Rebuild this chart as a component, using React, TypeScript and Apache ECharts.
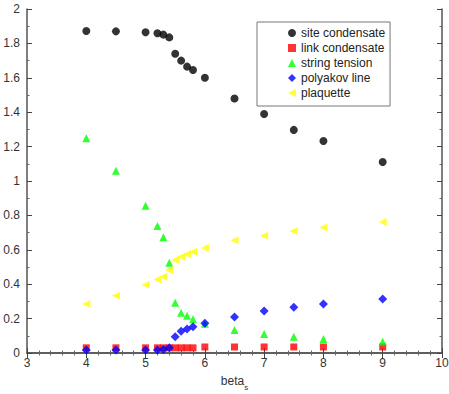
import React, { useEffect, useRef } from "react";
import * as echarts from "echarts";

const betaValues = [4, 4.5, 5, 5.2, 5.3, 5.4, 5.5, 5.6, 5.7, 5.8, 6, 6.5, 7, 7.5, 8, 9];
const siteCondensate = [1.872, 1.87, 1.865, 1.859, 1.851, 1.835, 1.74, 1.70, 1.665, 1.645, 1.60, 1.48, 1.39, 1.297, 1.233, 1.11];
const linkCondensate = [0.03, 0.03, 0.03, 0.03, 0.03, 0.03, 0.03, 0.03, 0.03, 0.03, 0.035, 0.035, 0.035, 0.035, 0.035, 0.035];
const stringTension = [1.248, 1.06, 0.856, 0.738, 0.673, 0.525, 0.292, 0.234, 0.217, 0.196, 0.17, 0.134, 0.11, 0.095, 0.081, 0.066];
const polyakovLine = [0.017, 0.017, 0.017, 0.017, 0.02, 0.03, 0.095, 0.127, 0.14, 0.153, 0.173, 0.21, 0.244, 0.266, 0.285, 0.314];
const plaquette = [0.285, 0.333, 0.397, 0.428, 0.444, 0.483, 0.541, 0.56, 0.574, 0.589, 0.61, 0.655, 0.682, 0.709, 0.729, 0.762];

const seriesNames = ["site condensate", "link condensate", "string tension", "polyakov line", "plaquette"];

const FONT = "'Liberation Sans', Arial, Helvetica, sans-serif";
const LEFT_TRIANGLE = "path://M0,5 L10,0 L10,10 Z";

function pairs(ys: number[]) {
  return betaValues.map((x, i) => [x, ys[i]]);
}

export default function App() {
  const ref = useRef<HTMLDivElement>(null);
  useEffect(() => {
    if (!ref.current) return;
    const chart = echarts.init(ref.current, null, { renderer: "svg" });
    const axisLine = { show: true, lineStyle: { color: "#555", width: 1.5 } };
    const baseX = {
      type: "value" as const,
      min: 3,
      max: 10,
      interval: 1,
      axisLine,
      splitLine: { show: false },
      axisTick: { show: true, inside: true, length: 5, lineStyle: { color: "#444" } },
      minorTick: { show: true, splitNumber: 5, length: 2.5, lineStyle: { color: "#666" } },
    };
    const baseY = {
      type: "value" as const,
      min: 0,
      max: 2,
      interval: 0.2,
      axisLine,
      splitLine: { show: false },
      axisTick: { show: true, inside: true, length: 5, lineStyle: { color: "#444" } },
      minorTick: { show: true, splitNumber: 2, length: 2.5, lineStyle: { color: "#666" } },
    };
    chart.setOption({
      animation: false,
      backgroundColor: "#fff",
      textStyle: { fontFamily: FONT },
      grid: { left: 27, right: 7, top: 9, bottom: 41, containLabel: false, outerBoundsMode: "none" },
      legend: {
        data: [
          { name: seriesNames[0] },
          { name: seriesNames[1] },
          { name: seriesNames[2] },
          { name: seriesNames[3] },
          { name: seriesNames[4], icon: LEFT_TRIANGLE },
        ],
        orient: "vertical",
        left: 257,
        top: 22,
        padding: [5, 5, 7, 31],
        itemGap: 3,
        itemWidth: 8,
        itemHeight: 8,
        borderColor: "#777",
        borderWidth: 1,
        textStyle: { fontSize: 12, color: "#222", fontFamily: FONT },
      },
      xAxis: [
        {
          ...baseX,
          position: "bottom",
          axisLabel: { show: true, fontSize: 12, color: "#333", margin: 4, fontFamily: FONT },
          name: "{a|beta}{s|s}",
          nameLocation: "middle",
          nameGap: 22,
          nameTextStyle: {
            rich: {
              a: { fontSize: 12, color: "#333", fontFamily: FONT, lineHeight: 16, verticalAlign: "top" },
              s: { fontSize: 8, color: "#333", fontFamily: FONT, lineHeight: 16, verticalAlign: "bottom", padding: [6, 0, 0, 0] },
            },
          },
        },
        { ...baseX, position: "top", axisLabel: { show: false } },
      ],
      yAxis: [
        {
          ...baseY,
          position: "left",
          axisLabel: { show: true, fontSize: 12, color: "#333", margin: 7, fontFamily: FONT },
        },
        { ...baseY, position: "right", axisLabel: { show: false } },
      ],
      series: [
        {
          name: seriesNames[0],
          type: "scatter",
          data: pairs(siteCondensate),
          symbol: "circle",
          symbolSize: 8,
          itemStyle: { color: "#000000" },
        },
        {
          name: seriesNames[1],
          type: "scatter",
          data: pairs(linkCondensate),
          symbol: "rect",
          symbolSize: 7,
          itemStyle: { color: "#ff0000" },
        },
        {
          name: seriesNames[2],
          type: "scatter",
          data: pairs(stringTension),
          symbol: "triangle",
          symbolSize: 8,
          itemStyle: { color: "#00ff00" },
        },
        {
          name: seriesNames[3],
          type: "scatter",
          data: pairs(polyakovLine),
          symbol: "diamond",
          symbolSize: 9,
          itemStyle: { color: "#0000ff" },
        },
        {
          name: seriesNames[4],
          type: "scatter",
          data: pairs(plaquette),
          symbol: LEFT_TRIANGLE,
          symbolSize: 8,
          itemStyle: { color: "#ffff00" },
        },
      ],
    });
    return () => chart.dispose();
  }, []);
  return (
    <div
      ref={ref}
      style={{ position: "fixed", left: 0, top: 0, width: 449, height: 394, background: "#fff" }}
    />
  );
}
